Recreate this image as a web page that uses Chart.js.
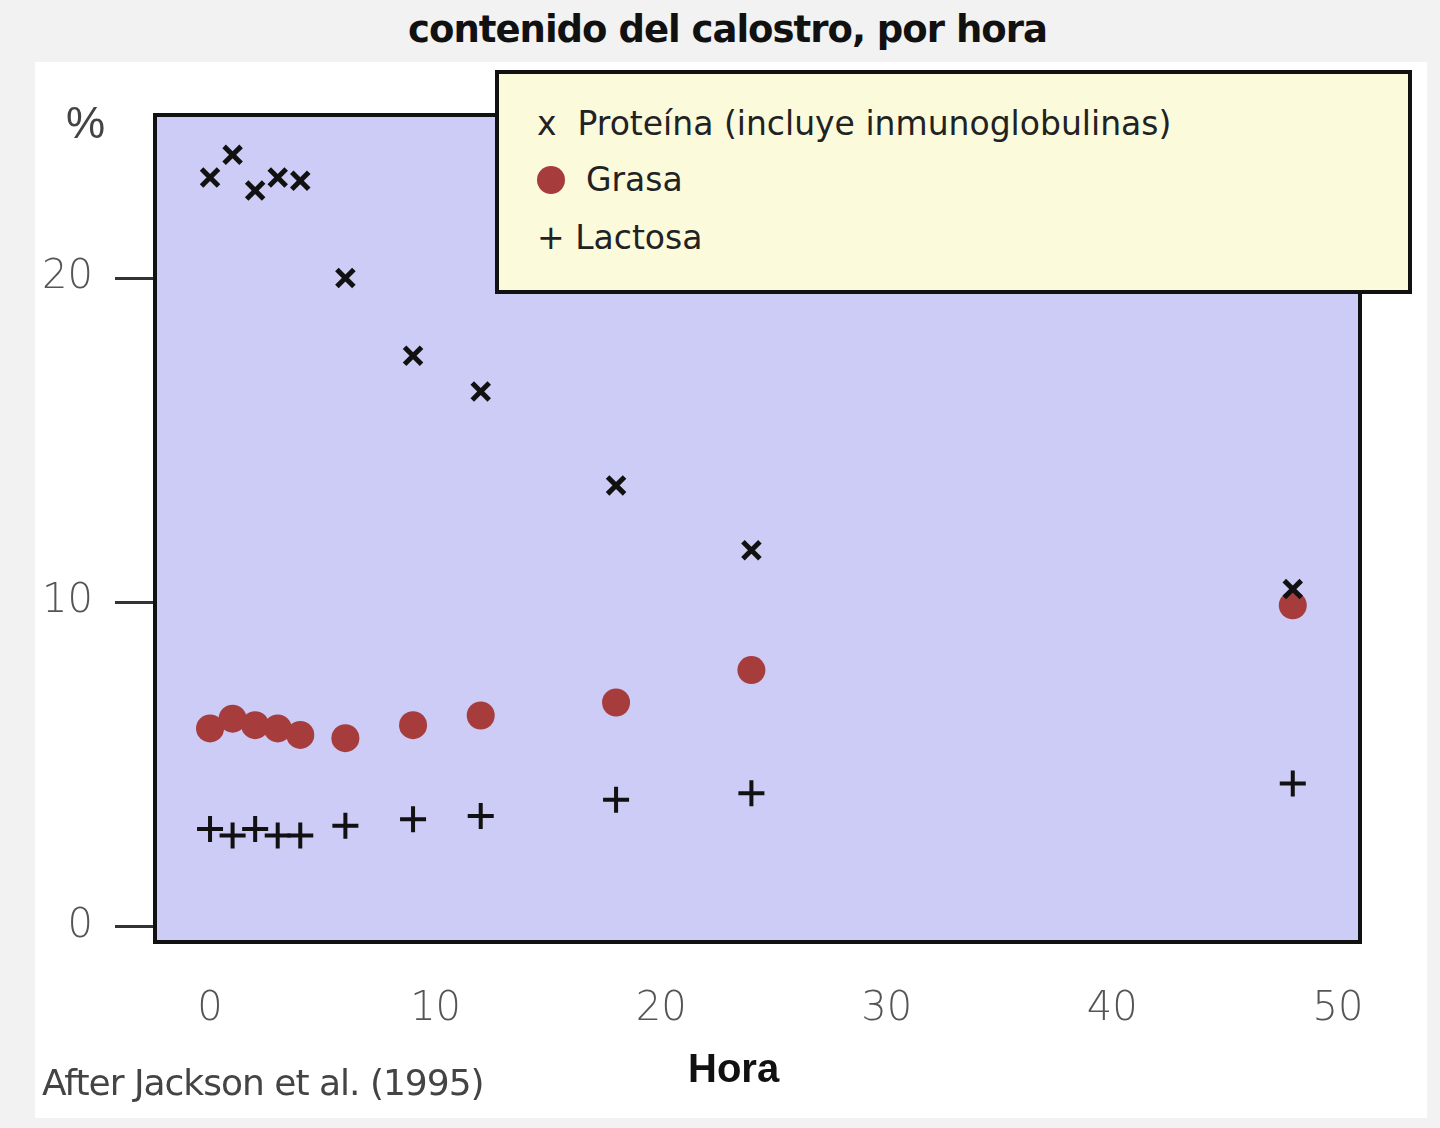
<!DOCTYPE html>
<html><head><meta charset="utf-8">
<script src="https://cdn.jsdelivr.net/npm/chart.js@4"></script>
<style>
body{margin:0;width:1440px;height:1128px;background:#f2f2f2;position:relative;font-family:"Liberation Sans",Arial,sans-serif;overflow:hidden}
#card{position:absolute;left:35px;top:62px;width:1392px;height:1056px;background:#fff}
#c{position:absolute;left:0;top:0}
.t{position:absolute;color:#111}
#legend{position:absolute;left:495px;top:70px;width:909px;height:216px;background:#fbfadb;border:4px solid #111;font-family:"DejaVu Sans",sans-serif;font-size:33px;color:#222}
#legend div{position:absolute;left:38px}
</style></head><body>
<div id="card"></div>
<div class="t" style="left:0;width:1455px;top:8px;text-align:center;font-weight:bold;font-size:37px;font-family:'DejaVu Sans',sans-serif;letter-spacing:-1px">contenido del calostro, por hora</div>
<canvas id="c" width="1440" height="1128"></canvas>
<div class="t" style="left:66px;top:98px;font-size:44px;color:#444">%</div>
<div class="t" style="left:688px;top:1046px;font-weight:bold;font-size:40px">Hora</div>
<div class="t" style="left:42px;top:1062px;font-size:36px;color:#444;font-family:'DejaVu Sans',sans-serif;letter-spacing:-1px">After Jackson et al. (1995)</div>
<div id="legend">
<div style="top:30px">x&nbsp; Proteína (incluye inmunoglobulinas)</div>
<div style="top:86px"><span style="display:inline-block;width:28px;height:28px;border-radius:50%;background:#a63c3c;vertical-align:-3px"></span>&nbsp; Grasa</div>
<div style="top:144px">+ Lactosa</div>
</div>
<script>
const hours = [0, 1, 2, 3, 4, 6, 9, 12, 18, 24, 48];
const protein = [23.1, 23.8, 22.7, 23.1, 23.0, 20.0, 17.6, 16.5, 13.6, 11.6, 10.4];
const fat = [6.1, 6.4, 6.2, 6.1, 5.9, 5.8, 6.2, 6.5, 6.9, 7.9, 9.9];
const lactose = [3.0, 2.8, 3.0, 2.8, 2.8, 3.1, 3.3, 3.4, 3.9, 4.1, 4.4];
const yTicks = [0, 10, 20];

const pts = arr => hours.map((h, i) => ({ x: h, y: arr[i] }));

// plot background + frame
const frame = {
    id: 'frame',
    beforeDatasetsDraw(chart) {
        const a = chart.chartArea, ctx = chart.ctx;
        ctx.save();
        ctx.fillStyle = '#ccccf6';
        ctx.fillRect(a.left, a.top, a.right - a.left, a.bottom - a.top);
        ctx.restore();
    },
    afterDraw(chart) {
        const a = chart.chartArea, ctx = chart.ctx;
        ctx.save();
        ctx.strokeStyle = '#111';
        ctx.lineWidth = 4;
        ctx.strokeRect(a.left, a.top, a.right - a.left, a.bottom - a.top);
        ctx.restore();
    }
};

new Chart(document.getElementById('c'), {
    type: 'scatter',
    data: {
        datasets: [
            { data: pts(protein), pointStyle: 'crossRot', pointRadius: 12, borderColor: '#111', borderWidth: 5 },
            { data: pts(fat), pointStyle: 'circle', pointRadius: 14, backgroundColor: '#a63c3c', borderColor: '#a63c3c', borderWidth: 0 },
            { data: pts(lactose), pointStyle: 'cross', pointRadius: 13, borderColor: '#111', borderWidth: 4 }
        ]
    },
    options: {
        responsive: false, animation: false, events: [],
        layout: { padding: { top: 115, right: 80, left: 0, bottom: 0 } },
        plugins: { legend: { display: false }, tooltip: { enabled: false } },
        scales: {
            x: {
                min: -2.44, max: 50.98,
                afterBuildTicks: s => { s.ticks = [0, 10, 20, 30, 40, 50].map(v => ({ value: v })); },
                afterFit: s => { s.height = 186; },
                grid: { drawOnChartArea: false, drawTicks: false },
                border: { display: false },
                ticks: { padding: 44, color: '#555', font: { size: 40, family: 'DejaVu Sans', weight: 300 } }
            },
            y: {
                min: -0.49, max: 25.03,
                afterBuildTicks: s => { s.ticks = yTicks.map(v => ({ value: v })); },
                afterFit: s => { s.width = 155; },
                grid: { drawOnChartArea: false, tickLength: 40, color: '#333', lineWidth: 3 },
                border: { display: false },
                ticks: { padding: 22, color: '#555', font: { size: 40, family: 'DejaVu Sans', weight: 300 } }
            }
        }
    },
    plugins: [frame]
});
</script>
</body></html>
